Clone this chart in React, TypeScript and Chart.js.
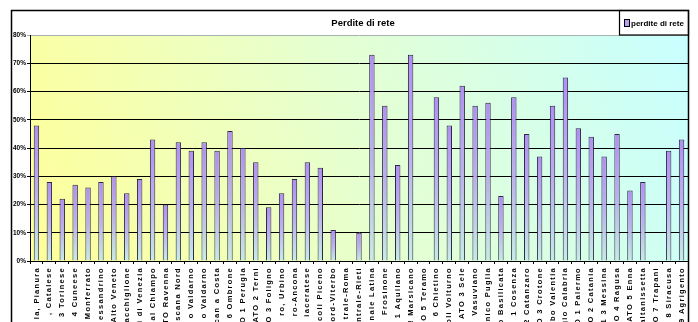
import React, { useEffect, useRef } from 'react';
import { Chart, registerables } from 'chart.js';

Chart.register(...registerables);

const categories: string[] = [
  'la, Pianura', ', Catalese', '3 Torinese', '4 Cuneese', 'Monferrato', 'essandrino',
  'Alto Veneto', 'acchiglione', 'i di Venezia', 'al Chiampo', 'TO Ravenna', 'scana Nord',
  'o Valdarno', 'o Valdarno', 'can a Costa', '6 Ombrone', 'O 1 Perugia', 'ATO 2 Terni',
  'O 3 Foligno', 'ro, Urbino', 'ro-Ancona', 'iaceratese', 'coli Piceno', 'ord-Viterbo',
  'trale-Roma', 'ntrale-Rieti', 'nale Latina', 'Frosinone', '1 Aquilano', '! Marsicano',
  'O 5 Teramo', '6 Chietino', 'oli Volturno', 'ATO 3 Sele', 'Vasuviano', 'Jnico Puglia',
  'o Basilicata', '1 Cosenza', '2 Catanzaro', 'O 3 Crotone', 'bo Valentia', 'gio Calabria',
  'O 1 Palermo', 'O 2 Catania', '1 3 Messina', 'O 4 Ragusa', 'ATO 5 Enna', 'altanissetta',
  'O 7 Trapani', '1 8 Siracusa', '9 Agrigento',
];

const lossValues: number[] = [
  48, 28, 22, 27, 26, 28, 30, 24, 29, 43, 20, 42,
  39, 42, 39, 46, 40, 35, 19, 24, 29, 35, 33, 11,
  0, 10, 73, 55, 34, 73, 0, 58, 48, 62, 55, 56,
  23, 58, 45, 37, 55, 65, 47, 44, 37, 45, 25, 28,
  0, 39, 43,
];

const yTicks: number[] = [0, 10, 20, 30, 40, 50, 60, 70, 80];
const chartTitle = 'Perdite di rete';
const seriesName = 'perdite di rete';

const FONT = '"Liberation Sans", Arial, sans-serif';

export default function App() {
  const ref = useRef<HTMLCanvasElement>(null);

  useEffect(() => {
    document.body.style.margin = '0';
    const canvas = ref.current;
    if (!canvas) return;

    const decor = {
      id: 'decor',
      afterLayout(chart: any) {
        const xs = chart.scales.x;
        if (xs && !xs.__spaced) {
          const orig = xs.drawLabels.bind(xs);
          xs.drawLabels = (ca: any) => {
            const c = chart.ctx;
            c.save();
            c.letterSpacing = '1.3px';
            orig(ca);
            c.restore();
          };
          xs.__spaced = true;
        }
      },
      beforeDraw(chart: any) {
        const { ctx, chartArea, width, height } = chart;
        ctx.save();
        ctx.fillStyle = '#ffffff';
        ctx.fillRect(0, 0, width, height);
        if (chartArea) {
          const g = ctx.createLinearGradient(chartArea.left, chartArea.bottom, chartArea.right, chartArea.top);
          g.addColorStop(0, '#ffff99');
          g.addColorStop(0.45, '#e8ffcc');
          g.addColorStop(1, '#c8ffff');
          ctx.fillStyle = g;
          ctx.fillRect(chartArea.left, chartArea.top, chartArea.right - chartArea.left, chartArea.bottom - chartArea.top);
        }
        ctx.restore();
      },
      afterDraw(chart: any) {
        const { ctx, chartArea } = chart;
        ctx.save();
        ctx.strokeStyle = '#000000';
        ctx.lineWidth = 1.5;
        ctx.strokeRect(11.5, 10.5, 677, 340);
        ctx.lineWidth = 1.2;
        ctx.strokeRect(619.5, 10.5, 69, 24.5);
        ctx.fillStyle = '#000000';
        ctx.font = 'bold 9.5px ' + FONT;
        ctx.textAlign = 'center';
        ctx.textBaseline = 'middle';
        const cx = chartArea ? (chartArea.left + chartArea.right) / 2 : 360;
        ctx.fillText(chartTitle, cx + 4, 23);
        ctx.fillStyle = '#b8a0f0';
        ctx.fillRect(625, 20, 4, 6);
        ctx.strokeStyle = '#000000';
        ctx.lineWidth = 1;
        ctx.strokeRect(624.5, 19.5, 5, 7);
        ctx.fillStyle = '#000000';
        ctx.font = 'bold 8px ' + FONT;
        ctx.textAlign = 'left';
        ctx.fillText(seriesName, 631, 23.5);
        ctx.restore();
      },
    };

    const chart = new Chart(canvas, {
      type: 'bar',
      data: {
        labels: categories,
        datasets: [
          {
            label: seriesName,
            data: lossValues,
            borderColor: '#2a2a44',
            borderWidth: 1,
            borderSkipped: 'bottom',
            categoryPercentage: 1,
            barPercentage: 0.42,
            backgroundColor: (c: any) => {
              const ch = c.chart;
              const ys = ch.scales && ch.scales.y;
              if (!ys || !ch.chartArea || typeof c.raw !== 'number') return '#b8a0f0';
              const top = ys.getPixelForValue(c.raw);
              const bottom = ys.getPixelForValue(0);
              if (!isFinite(top) || !isFinite(bottom) || bottom - top < 1) return '#c0c8f0';
              const g = ch.ctx.createLinearGradient(0, top, 0, bottom);
              g.addColorStop(0, '#b28ef4');
              g.addColorStop(0.5, '#bcb0ee');
              g.addColorStop(1, '#c6ece6');
              return g;
            },
          },
        ],
      },
      options: {
        animation: false,
        responsive: true,
        maintainAspectRatio: false,
        layout: { padding: { left: 0, right: 10, top: 35, bottom: 0 } },
        plugins: {
          legend: { display: false },
          title: { display: false },
          tooltip: { enabled: false },
        },
        scales: {
          x: {
            grid: {
              display: true,
              drawOnChartArea: false,
              offset: true,
              tickLength: 3,
              color: '#000000',
            },
            border: { display: true, color: '#000000', width: 1 },
            ticks: {
              autoSkip: false,
              minRotation: 90,
              maxRotation: 90,
              padding: 3,
              color: '#000000',
              font: { family: FONT, size: 7.5, weight: 'bold' },
            },
            afterFit: (s: any) => {
              s.height = 61;
            },
          },
          y: {
            min: 0,
            max: 80,
            afterBuildTicks: (s: any) => {
              s.ticks = yTicks.map((v) => ({ value: v }));
            },
            grid: {
              color: (c: any) => (c.tick && c.tick.value === 80 ? '#a8b0b0' : '#000000'),
              tickLength: 3,
              lineWidth: 1,
            },
            border: { display: true, color: '#000000', width: 1 },
            ticks: {
              padding: 1,
              color: '#000000',
              font: { family: FONT, size: 6.5, weight: 'bold' },
              callback: (v: any) => v + '%',
            },
            afterFit: (s: any) => {
              s.width = 30;
            },
          },
        },
      },
      plugins: [decor],
    });

    return () => chart.destroy();
  }, []);

  return (
    <div style={{ position: 'relative', width: 698, height: 322 }}>
      <canvas ref={ref} />
    </div>
  );
}
